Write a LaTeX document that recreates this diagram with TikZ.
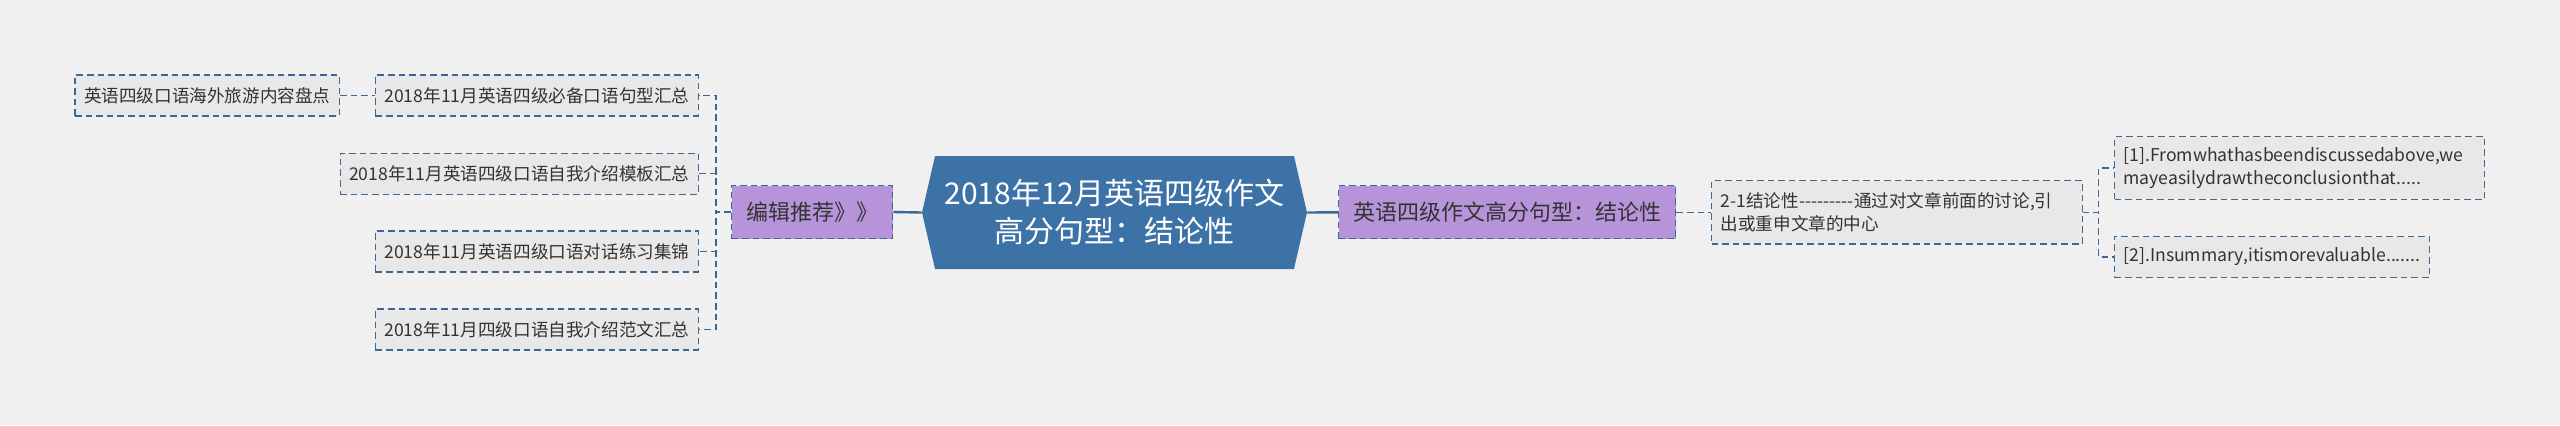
\documentclass[tikz,border=0pt]{standalone}
\usepackage{fontspec}
\setmainfont{Noto Sans CJK SC}[Ligatures=TeXOff]
\usetikzlibrary{shapes.symbols}
\definecolor{bgcol}{HTML}{F0F0F0}
\definecolor{boxfill}{HTML}{E8E8E8}
\definecolor{linecol}{HTML}{3D6891}
\definecolor{purplefill}{HTML}{B794DA}
\definecolor{hexfill}{HTML}{3C72A6}
\definecolor{textcol}{HTML}{333333}

\begin{document}
\begin{tikzpicture}[x=0.5pt, y=-0.5pt,
    leaf/.style={draw=linecol, dash pattern=on 3.3pt off 2pt, line width=0.6pt, fill=boxfill, text=textcol, font=\fontsize{8.8}{11}\selectfont, inner xsep=4.5pt, minimum height=20.5pt},
    topic/.style={leaf, fill=purplefill, font=\fontsize{11}{13}\selectfont, minimum height=26.5pt, inner xsep=7.3pt},
    note/.style={leaf, align=left, font=\fontsize{8.8}{11.5}\selectfont, inner xsep=4.5pt},
    link/.style={draw=linecol, dash pattern=on 3.3pt off 2pt, line width=0.6pt},
    trunk/.style={draw=linecol, line width=1.2pt}]
    \useasboundingbox[fill=bgcol] (0,0) rectangle (2560,425);

    % Nodes
    \node[signal, signal to=west and east, signal pointer angle=154, fill=hexfill, text=white, align=center, font=\fontsize{15}{19}\selectfont, minimum width=192.5pt, minimum height=56.5pt] (root) at (1114.5,212.5) {2018年12月英语四级作文\\高分句型：结论性};

    \node[topic, anchor=west] (tuijian) at (731,212) {编辑推荐》》};
    \node[leaf, anchor=east] (bibei) at (699,95.5) {2018年11月英语四级必备口语句型汇总};
    \node[leaf, anchor=east] (haiwai) at (340,95.5) {英语四级口语海外旅游内容盘点};
    \node[leaf, anchor=east] (muban) at (699,173.6) {2018年11月英语四级口语自我介绍模板汇总};
    \node[leaf, anchor=east] (duihua) at (699,251.5) {2018年11月英语四级口语对话练习集锦};
    \node[leaf, anchor=east] (fanwen) at (699,329.5) {2018年11月四级口语自我介绍范文汇总};

    \node[topic, anchor=west] (jielun) at (1338,212.3) {英语四级作文高分句型：结论性};
    \node[note, anchor=west, text width=176.3pt, minimum height=31.7pt] (fenxi) at (1711,212.3) {2-1结论性---------通过对文章前面的讨论,引\\出或重申文章的中心};
    \node[note, anchor=west, text width=176pt, minimum height=31.3pt] (juzi1) at (2114,168) {[1].Fromwhathasbeendiscussedabove,we\\mayeasilydrawtheconclusionthat.....};
    \node[leaf, anchor=west] (juzi2) at (2114,257) {[2].Insummary,itismorevaluable.......};

    % Connectors
    \draw[trunk] (tuijian.east) -- (root.west);
    \draw[trunk] (root.east) -- (jielun.west);
    \draw[link] (haiwai.east) -- (bibei.west);
    \foreach \kid in {bibei, muban, duihua, fanwen}
        \draw[link] (tuijian.west) -- ++(-15,0) |- (\kid.east);
    \draw[link] (jielun.east) -- (fenxi.west);
    \foreach \kid in {juzi1, juzi2}
        \draw[link] (fenxi.east) -- ++(16,0) |- (\kid.west);
\end{tikzpicture}
\end{document}
